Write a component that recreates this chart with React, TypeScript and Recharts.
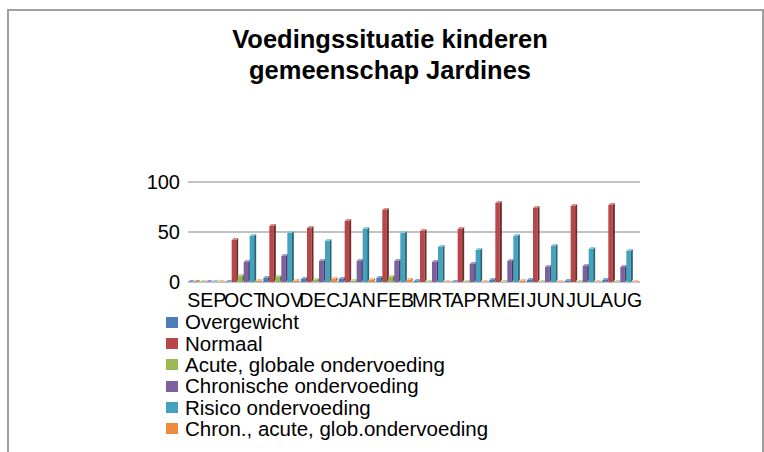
import React from "react";
import { BarChart, Bar, XAxis, YAxis, CartesianGrid } from "recharts";

const months = ["SEP", "OCT", "NOV", "DEC", "JAN", "FEB", "MRT", "APR", "MEI", "JUN", "JUL", "AUG"];
const overgewicht = [0, 0, 4, 3, 3, 4, 1, 0, 2, 2, 1, 2];
const normaal = [0, 42, 56, 54, 61, 72, 51, 53, 79, 74, 76, 77];
const acuteGlobaal = [0, 6, 5, 2, 1, 5, 0, 0, 0, 0, 0, 0];
const chronisch = [0, 20, 26, 21, 21, 21, 20, 18, 21, 15, 16, 15];
const risico = [0, 46, 49, 41, 53, 49, 35, 32, 46, 36, 33, 31];
const chronAcuut = [0, 1, 1, 3, 2, 2, 0, 0, 1, 0, 0, 0];
const yTicks = [0, 50, 100];

const series = [
  { key: "overgewicht", name: "Overgewicht", color: "#4A7EBB", side: "#2C4D75", top: "#7FA5D6" },
  { key: "normaal", name: "Normaal", color: "#B9474A", side: "#6E2A2B", top: "#D88A88" },
  { key: "acute", name: "Acute, globale ondervoeding", color: "#98B954", side: "#5E7530", top: "#BFD68E" },
  { key: "chronisch", name: "Chronische ondervoeding", color: "#7D60A0", side: "#4B3A62", top: "#A996C2" },
  { key: "risico", name: "Risico ondervoeding", color: "#43A3BE", side: "#286576", top: "#8CCADC" },
  { key: "chronAcuut", name: "Chron., acute, glob.ondervoeding", color: "#F08A3C", side: "#B2621F", top: "#F9BB87" },
];

const data = months.map((m, i) => ({
  month: m,
  overgewicht: overgewicht[i],
  normaal: normaal[i],
  acute: acuteGlobaal[i],
  chronisch: chronisch[i],
  risico: risico[i],
  chronAcuut: chronAcuut[i],
}));

const FONT = "'Liberation Sans', Arial, sans-serif";

// fake excel 3d column: front face, dark right side, light top
function make3D(s: { color: string; side: string; top: string }) {
  return (props: any) => {
    const { x, y, width, height } = props;
    const d = 2;
    const w = Math.max(width + 0.5, 3);
    const fw = w - d;
    const h = Math.max(height || 0, 0);
    return (
      <g>
        {h > 0 && <rect x={x} y={y} width={fw} height={h} fill={s.color} />}
        <polygon
          points={`${x + fw},${y} ${x + w},${y - d} ${x + w},${y + h - d} ${x + fw},${y + h}`}
          fill={s.side}
        />
        <polygon points={`${x},${y} ${x + d},${y - d} ${x + w},${y - d} ${x + fw},${y}`} fill={s.top} />
      </g>
    );
  };
}

export default function App() {
  return (
    <div
      style={{
        position: "absolute",
        left: 0,
        top: 0,
        width: 764,
        height: 452,
        overflow: "hidden",
        background: "#fff",
        fontFamily: FONT,
      }}
    >
      <div
        style={{
          position: "absolute",
          left: 7,
          top: 9,
          width: 753,
          height: 500,
          border: "2px solid #a0a0a0",
        }}
      />
      <div
        style={{
          position: "absolute",
          left: 190,
          width: 400,
          top: 24,
          textAlign: "center",
          fontWeight: "bold",
          fontSize: 25.5,
          lineHeight: "31px",
          color: "#000",
        }}
      >
        Voedingssituatie kinderen
        <br />
        gemeenschap Jardines
      </div>
      <div style={{ position: "absolute", left: 0, top: 0 }}>
        <BarChart
          width={764}
          height={452}
          data={data}
          margin={{ top: 182, right: 124, bottom: 140, left: 0 }}
          barCategoryGap={0}
          barGap={0}
          style={{ fontFamily: FONT }}
        >
          <CartesianGrid vertical={false} stroke="#868686" strokeWidth={1.2} />
          <XAxis
            dataKey="month"
            interval={0}
            height={30}
            tickLine={false}
            axisLine={false}
            tickSize={0}
            tickMargin={11}
            tick={{ fontSize: 19.5, fill: "#000", fontFamily: FONT }}
          />
          <YAxis
            width={188}
            domain={[0, 100]}
            ticks={yTicks}
            tickLine={false}
            axisLine={false}
            tickSize={0}
            tickMargin={8}
            tick={{ fontSize: 20, fill: "#000", fontFamily: FONT }}
          />
          {series.map((s) => (
            <Bar
              key={s.key}
              dataKey={s.key}
              name={s.name}
              fill={s.color}
              shape={make3D(s)}
              isAnimationActive={false}
            />
          ))}
        </BarChart>
      </div>
      <div style={{ position: "absolute", left: 166, top: 311.7 }}>
        {series.map((s) => (
          <div
            key={s.key}
            style={{ display: "flex", alignItems: "center", height: 21.3, fontSize: 20.5, color: "#000", whiteSpace: "nowrap" }}
          >
            <span style={{ display: "inline-block", width: 12, height: 11, background: s.color, marginRight: 7 }} />
            {s.name}
          </div>
        ))}
      </div>
    </div>
  );
}
